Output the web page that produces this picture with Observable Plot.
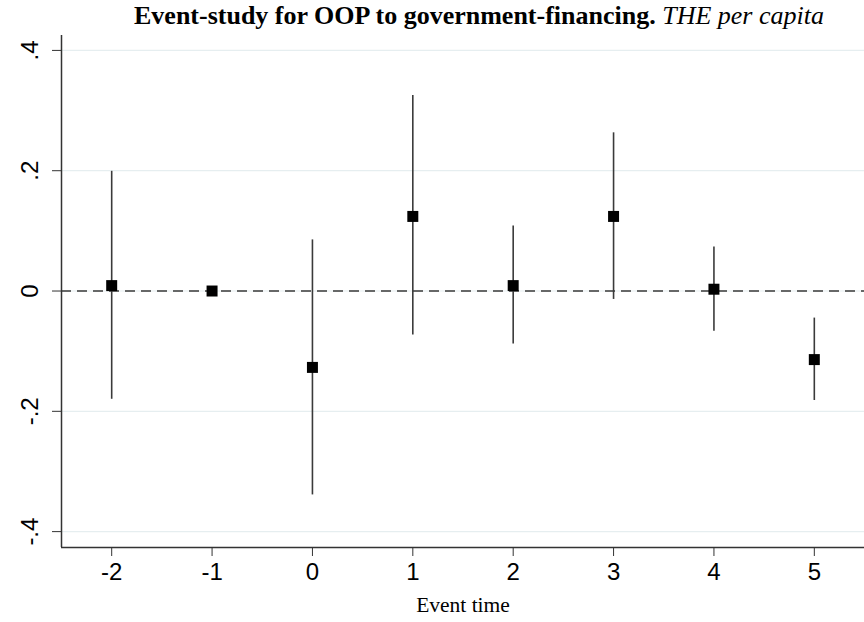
<!DOCTYPE html>
<html>
<head>
<meta charset="utf-8">
<script src="https://cdn.jsdelivr.net/npm/d3@7"></script>
<script src="https://cdn.jsdelivr.net/npm/@observablehq/plot@0.6"></script>
<style>
  html, body { margin: 0; padding: 0; background: #fff; }
  #wrap { width: 864px; }
  #title {
    height: 35px;
    box-sizing: border-box;
    padding-left: 94px;
    padding-top: 0px;
    text-align: center;
    font-family: "Liberation Serif", "Times New Roman", serif;
    font-size: 26px;
    line-height: 32px;
    color: #000;
    white-space: nowrap;
  }
  #title b { font-weight: bold; }
  #title i { font-style: italic; font-weight: normal; }
</style>
</head>
<body>
<div id="wrap">
  <div id="title"><b>Event-study for OOP to government-financing.</b> <i>THE per capita</i></div>
  <div id="chart"></div>
</div>
<script>
// Event-study coefficients with 95% confidence intervals (t = -1 is the reference period)
const eventTime = [-2, -1, 0, 1, 2, 3, 4, 5];
const coef      = [0.009, 0, -0.127, 0.124, 0.009, 0.124, 0.003, -0.114];
const ciLow     = [-0.180, null, -0.339, -0.073, -0.088, -0.014, -0.067, -0.182];
const ciHigh    = [0.199, null, 0.085, 0.325, 0.108, 0.263, 0.073, -0.045];
const yTicks    = [-0.4, -0.2, 0, 0.2, 0.4];
const xTicks    = [-2, -1, 0, 1, 2, 3, 4, 5];
const xDomain   = [-2.5, 5.5];
const yDomain   = [-0.4264, 0.4248];
const xLabel    = "Event time";

const rows = eventTime.map((t, i) => ({t, b: coef[i], lo: ciLow[i], hi: ciHigh[i]}));
const ciRows = rows.filter(d => d.lo != null);

// Stata-style tick labels: ".4", "-.2", "0"
const stataFmt = v => v === 0 ? "0" : v.toFixed(1).replace(/^(-?)0\./, "$1.");

const sans = "'Liberation Sans', Arial, sans-serif";
const serif = "'Liberation Serif', 'Times New Roman', serif";

const chart = Plot.plot({
  width: 864,
  height: 587,
  marginTop: 0,
  marginLeft: 61,
  marginRight: 0,
  marginBottom: 75,
  style: {background: "#fff", color: "#000", fontFamily: sans},
  x: {domain: xDomain},
  y: {domain: yDomain},
  marks: [
    Plot.gridY(yTicks, {stroke: "#e6eef0", strokeOpacity: 1, strokeWidth: 1.2}),
    Plot.ruleY([0], {stroke: "#3a3a3a", strokeWidth: 1.5, strokeDasharray: "10,6"}),
    Plot.ruleX(ciRows, {x: "t", y1: "lo", y2: "hi", stroke: "#3a3a3a", strokeWidth: 1.6}),
    Plot.dot(rows, {x: "t", y: "b", symbol: "square", r: 6.2, fill: "#000", stroke: "none"}),
    // axis lines along the left and bottom edges of the frame
    Plot.ruleX([xDomain[0]], {stroke: "#333", strokeWidth: 1.5}),
    Plot.ruleY([yDomain[0]], {stroke: "#333", strokeWidth: 1.5}),
    Plot.axisY({
      ticks: yTicks, tickFormat: stataFmt, tickSize: 9, tickRotate: -90,
      tickPadding: 15, fontSize: 24, label: null, stroke: "#333"
    }),
    Plot.axisX({
      ticks: xTicks, tickFormat: d => String(d), tickSize: 9, tickPadding: 6,
      fontSize: 24, label: null, stroke: "#333"
    }),
    Plot.text([xLabel], {
      frameAnchor: "bottom", dy: 64, fontFamily: serif, fontSize: 21.5, fill: "#000"
    })
  ]
});
document.getElementById("chart").appendChild(chart);
</script>
</body>
</html>
